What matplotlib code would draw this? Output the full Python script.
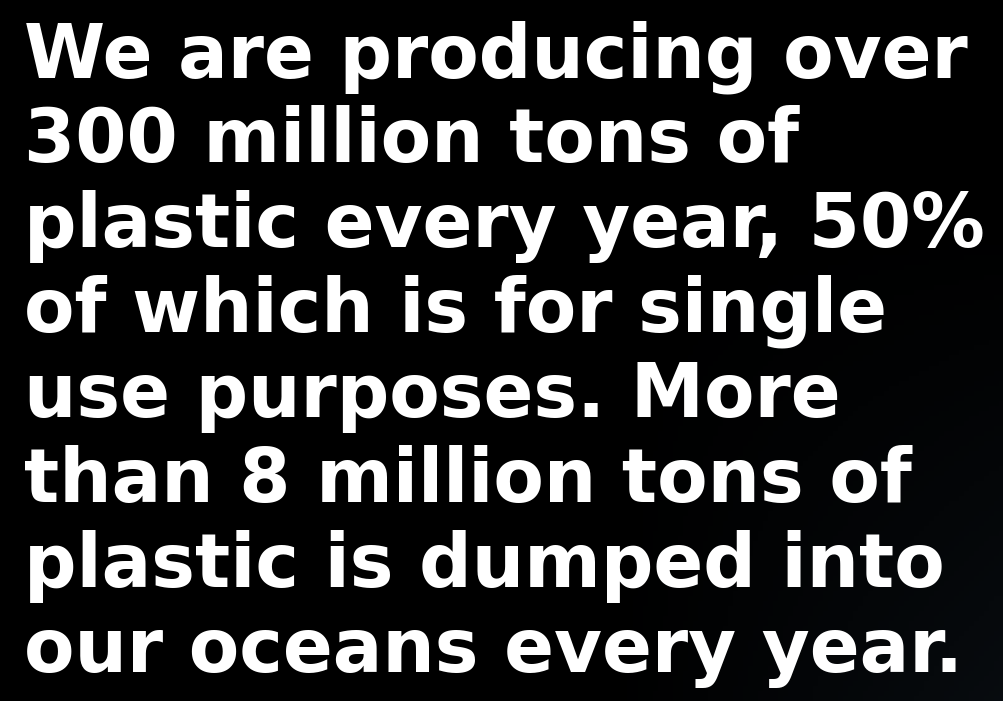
import matplotlib.pyplot as plt
import numpy as np

# =====================================================
# Text content
# =====================================================

lines = [
    "We are producing over",
    "300 million tons of",
    "plastic every year, 50%",
    "of which is for single",
    "use purposes. More",
    "than 8 million tons of",
    "plastic is dumped into",
    "our oceans every year.",
]

# =====================================================
# Figure
# =====================================================

W, H = 1004, 701
fig = plt.figure(figsize=(W / 100, H / 100), dpi=100)
fig.patch.set_facecolor("black")

ax = fig.add_axes([0, 0, 1, 1])
ax.set_xlim(0, W)
ax.set_ylim(H, 0)
ax.axis("off")

# faint dark glow on the right side of the background
xx, yy = np.meshgrid(np.linspace(0, 1, 200), np.linspace(0, 1, 140))
glow = np.clip((xx - 0.6) / 0.4, 0, 1) * np.clip((yy - 0.3) / 0.7, 0, 1)
bg = np.zeros((140, 200, 3))
bg[..., 0] = 0.03 * glow
bg[..., 1] = 0.045 * glow
bg[..., 2] = 0.06 * glow
ax.imshow(bg, extent=[0, W, H, 0], aspect="auto", zorder=0)

for i, line in enumerate(lines):
    ax.text(
        24,
        77 + i * 85,
        line,
        color="white",
        fontsize=53,
        fontweight="bold",
        family="DejaVu Sans",
        va="baseline",
        ha="left",
        zorder=2,
    )

fig.savefig("out.png", dpi=100, facecolor="black")
plt.close(fig)
